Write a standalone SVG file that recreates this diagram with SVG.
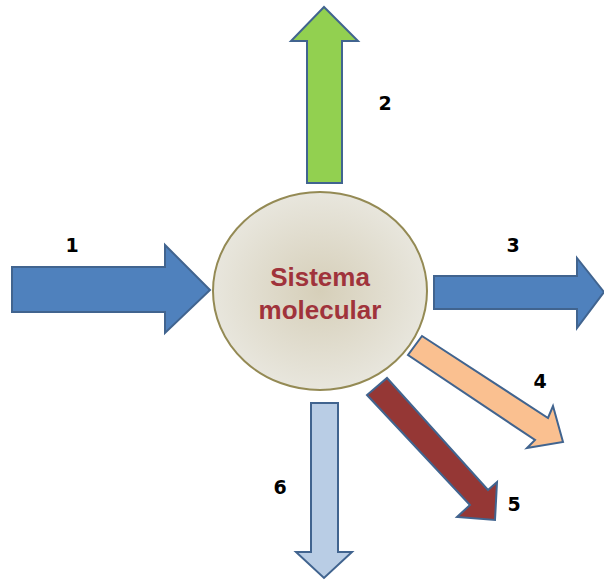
<svg xmlns="http://www.w3.org/2000/svg" width="604" height="580" viewBox="0 0 604 580">
<defs>
<radialGradient id="g" cx="50%" cy="50%" r="50%">
<stop offset="0" stop-color="#d6cfb9"/>
<stop offset="1" stop-color="#e8e6dd"/>
</radialGradient>
<style>
.arrow{stroke:#41648f;stroke-width:2;stroke-linejoin:miter}
.lbl{font-family:"DejaVu Sans",sans-serif;font-weight:bold;font-size:19px;fill:#000;text-anchor:middle}
.t{font-family:"Liberation Sans",Arial,sans-serif;font-weight:bold;font-size:26px;fill:#a0333b;text-anchor:middle}
</style>
</defs>
<rect width="604" height="580" fill="#fff"/>
<g id="connectors">
<g id="arrow1"><polygon class="arrow" fill="#4f81bd" points="12,267 165,267 165,245 210,290 165,333 165,312 12,312"/></g>
<g id="arrow2"><polygon class="arrow" fill="#92d050" points="307,183 307,41 291,41 324,7 358,41 342,41 342,183"/></g>
<g id="arrow3"><polygon class="arrow" fill="#4f81bd" points="434,276 577,276 577,258 604,292 577,328 577,309 434,309"/></g>
<g id="arrow4"><polygon class="arrow" fill="#fac090" points="422,336 548,418 553,406 563,442 527,448 535,440 408,355"/></g>
<g id="arrow5"><polygon class="arrow" fill="#953735" points="387,378 488,490 497,482 495,520 457,517 470,505 367,395"/></g>
<g id="arrow6"><polygon class="arrow" fill="#b9cde5" points="311,403 338,403 338,552 352,552 324,578 296,552 311,552"/></g>
</g>
<g id="node-sistema">
<ellipse cx="320" cy="291" rx="107" ry="99" fill="url(#g)" stroke="#948a54" stroke-width="2"/>
<text class="t" x="320" y="286">Sistema</text>
<text class="t" x="320" y="319">molecular</text>
</g>
<g id="labels">
<text class="lbl" x="72" y="252">1</text>
<text class="lbl" x="385" y="110">2</text>
<text class="lbl" x="513" y="252">3</text>
<text class="lbl" x="540" y="388">4</text>
<text class="lbl" x="514" y="511">5</text>
<text class="lbl" x="280" y="494">6</text>
</g>
</svg>
